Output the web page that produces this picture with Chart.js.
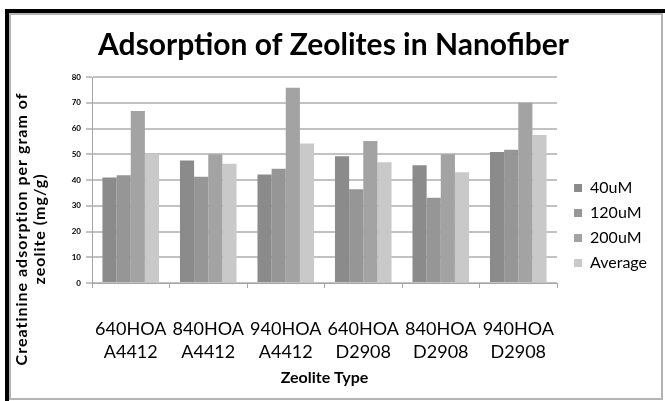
<!DOCTYPE html>
<html>
<head>
<meta charset="utf-8">
<script src="https://cdn.jsdelivr.net/npm/chart.js@4.4.1/dist/chart.umd.min.js"></script>
<style>
  body { margin: 0; background: #fff; }
  #wrap { position: relative; width: 665px; height: 401px; }
  #frame { position: absolute; left: 5px; top: 9px; width: 660px; height: 392px;
           border-top: 4px solid #000; border-left: 4px solid #000; box-sizing: border-box; pointer-events: none; }
  #inner { position: absolute; left: 0; top: 0; right: 2px; bottom: 1px;
           border: 2px solid #b4b4b4; pointer-events: none; }
</style>
</head>
<body>
<div id="wrap">
  <canvas id="zeoChart" width="665" height="401"></canvas>
  <div id="frame"><div id="inner"></div></div>
</div>
<script>
// zeolite types (two line labels)
const zeoliteTypes = [
    ['640HOA', 'A4412'],
    ['840HOA', 'A4412'],
    ['940HOA', 'A4412'],
    ['640HOA', 'D2908'],
    ['840HOA', 'D2908'],
    ['940HOA', 'D2908']
];
const seriesNames = ['40uM', '120uM', '200uM', 'Average'];

// adsorption in mg/g
const uM40 = [41.0, 47.6, 42.1, 49.2, 45.7, 50.9];
const uM120 = [41.8, 41.3, 44.4, 36.4, 33.1, 51.7];
const uM200 = [66.8, 50.0, 75.8, 55.1, 50.0, 70.0];
const average = [50.0, 46.3, 54.2, 46.9, 43.0, 57.5];

const yTicks = [0, 10, 20, 30, 40, 50, 60, 70, 80];

const barColors = ['#8b8b8b', '#969696', '#a3a3a3', '#c9c9c9'];
const FONT = 'Lato';

/* y axis title, two lines, centred on the whole figure height */
const yTitlePlugin = {
    id: 'yTitle',
    afterDraw(chart) {
        let ctx = chart.ctx;
        let left = chart.chartArea.left;
        let midY = (chart.chartArea.top + chart.height - 20) / 2;
        ctx.save();
        ctx.fillStyle = '#000';
        ctx.font = 'bold 16px ' + FONT;
        ctx.letterSpacing = '1px';
        ctx.textAlign = 'center';
        ctx.textBaseline = 'middle';
        [['Creatinine adsorption per gram of', left - 70], ['zeolite (mg/g)', left - 52]].forEach((item) => {
            ctx.save();
            ctx.translate(item[1], midY);
            ctx.rotate(-Math.PI / 2);
            ctx.fillText(item[0], 0, 0);
            ctx.restore();
        });
        ctx.restore();
    }
};

/* nudge legend (right and down) and the title (right) */
const boxShift = {
    id: 'boxShift',
    afterLayout(chart) {
        chart.legend.left += 8;
        chart.legend.right += 8;
        chart.legend.top += 30;
        chart.legend.bottom += 30;
        chart.titleBlock.left += 9;
        chart.titleBlock.right += 9;
    }
};

let ctx = document.getElementById('zeoChart').getContext('2d');
let chart = new Chart(ctx, {
    type: 'bar',
    data: {
        labels: zeoliteTypes,
        datasets: [uM40, uM120, uM200, average].map((vals, i) => ({
            label: seriesNames[i],
            data: vals,
            backgroundColor: barColors[i],
            borderWidth: 0,
            categoryPercentage: 0.73,
            barPercentage: 1.0
        }))
    },
    options: {
        responsive: false,
        animation: false,
        layout: { padding: { left: 0, right: 16, top: 0, bottom: 10 } },
        plugins: {
            title: {
                display: true,
                text: 'Adsorption of Zeolites in Nanofiber',
                color: '#000',
                font: { family: FONT, size: 30, weight: 'bold', lineHeight: 1.2 },
                padding: { top: 27, bottom: 14 }
            },
            legend: {
                position: 'right',
                labels: {
                    color: '#000',
                    font: { family: FONT, size: 16 },
                    boxWidth: 8,
                    boxHeight: 8,
                    padding: 9
                }
            },
            tooltip: { enabled: false }
        },
        scales: {
            x: {
                afterFit: (scale) => { scale.height = 108; },
                grid: { drawOnChartArea: false, drawTicks: true, tickLength: 5, color: '#a6a6a6', offset: true },
                border: { color: '#a6a6a6', width: 1 },
                ticks: { color: '#000', font: { family: FONT, size: 18, lineHeight: 1.28 }, padding: 30, maxRotation: 0 },
                title: {
                    display: true,
                    text: 'Zeolite Type',
                    color: '#000',
                    font: { family: FONT, size: 16, weight: 'bold' },
                    padding: { top: 0, bottom: 4 }
                }
            },
            y: {
                min: 0,
                max: 80,
                afterFit: (scale) => { scale.width = 92; },
                afterBuildTicks: (scale) => { scale.ticks = yTicks.map((v) => ({ value: v })); },
                grid: { color: '#c2c2c2', lineWidth: 2, tickLength: 6 },
                border: { color: '#a6a6a6', width: 1 },
                ticks: { color: '#000', font: { family: FONT, size: 8, weight: 'bold' }, padding: 5 }
            }
        }
    },
    plugins: [yTitlePlugin, boxShift]
});
</script>
</body>
</html>
